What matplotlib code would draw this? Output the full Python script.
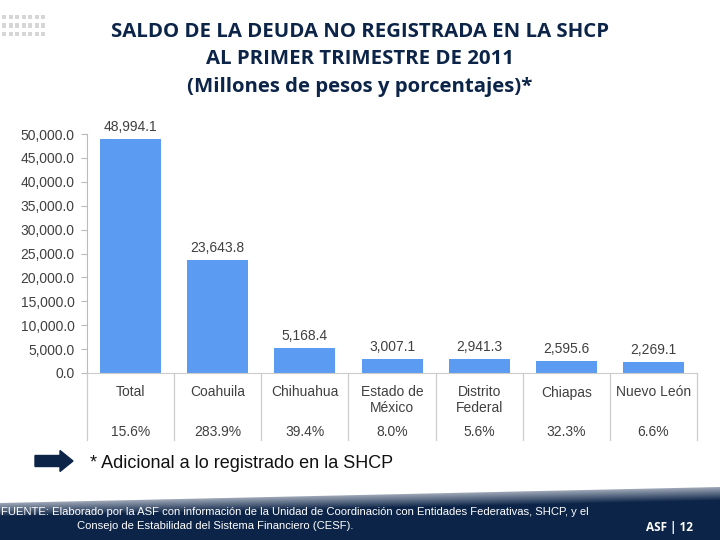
import matplotlib
matplotlib.use("Agg")
import matplotlib.pyplot as plt
from matplotlib.patches import Polygon, Rectangle, FancyArrow
import matplotlib.colors as mcolors
import numpy as np

categories = ["Total", "Coahuila", "Chihuahua", "Estado de\nMéxico", "Distrito\nFederal", "Chiapas", "Nuevo León"]
values = [48994.1, 23643.8, 5168.4, 3007.1, 2941.3, 2595.6, 2269.1]
percentages = ["15.6%", "283.9%", "39.4%", "8.0%", "5.6%", "32.3%", "6.6%"]
yticks = [0, 5000, 10000, 15000, 20000, 25000, 30000, 35000, 40000, 45000, 50000]

title_lines = ["SALDO DE LA DEUDA NO REGISTRADA EN LA SHCP",
               "AL PRIMER TRIMESTRE DE 2011",
               "(Millones de pesos y porcentajes)*"]

W, H = 720, 540
fig = plt.figure(figsize=(7.2, 5.4), dpi=100)
fig.patch.set_facecolor("white")

def fx(px):
    return px / W

def fy(py):
    return 1 - py / H

navy = "#0c2448"
bar_color = "#5b9cf2"
text_gray = "#404040"
sans = ["Liberation Sans", "DejaVu Sans"]

# axes
x0, x1 = 87, 697
ytop, ybot = 134, 373
ax = fig.add_axes([fx(x0), fy(ybot), fx(x1) - fx(x0), fy(ytop) - fy(ybot)])
n = len(categories)
x = np.arange(n)
ax.bar(x, values, width=0.70, color=bar_color, zorder=2)
ax.set_xlim(-0.5, n - 0.5)
ax.set_ylim(0, 50000)
ax.set_yticks(yticks)
ax.set_yticklabels([f"{v:,.1f}" for v in yticks], fontsize=10, color=text_gray,
                   family=sans)
ax.tick_params(axis="y", length=4, color="#bbbbbb", pad=5)
ax.set_xticks([])
for s in ["top", "right"]:
    ax.spines[s].set_visible(False)
ax.spines["left"].set_color("#bbbbbb")
ax.spines["bottom"].set_color("#cccccc")
ax.patch.set_alpha(0)

for xi, v in zip(x, values):
    ax.annotate(f"{v:,.1f}", (xi, v), xytext=(0, 8.5), textcoords="offset points",
                ha="center", va="center", fontsize=10, color=text_gray,
                family=sans)

# table below axis
for i in range(n):
    ax.annotate(categories[i], (i, 0), xytext=(0, -9), textcoords="offset points",
                ha="center", va="top", fontsize=10, color=text_gray,
                family=sans, linespacing=1.15, annotation_clip=False)
    ax.annotate(percentages[i], (i, 0), xytext=(0, -42.5), textcoords="offset points",
                ha="center", va="center", fontsize=10, color=text_gray,
                family=sans, annotation_clip=False)
for b in np.arange(-0.5, n, 1.0):
    ax.plot([b, b], [0, -0.28 * 50000], color="#cccccc", lw=0.9, clip_on=False)

# title
for i, line in enumerate(title_lines):
    fig.text(0.5, fy(32 + 27.5 * i), line, ha="center", va="center",
             fontsize=14.7, color=navy, family="Open Sans", weight="bold")

# decorative dots top-left
for r in range(3):
    for c in range(7):
        fig.patches.append(Rectangle((fx(2 + c * 6.5), fy(15 + r * 8.5) - 4 / H),
                                     4 / W, 4 / H, transform=fig.transFigure,
                                     color="#d6d6d6", lw=0))

# arrow + footnote
fig.patches.append(FancyArrow(fx(35), fy(461), fx(73) - fx(35) - fx(13), 0,
                              width=11 / H, head_width=21 / H, head_length=13 / W,
                              transform=fig.transFigure, color=navy,
                              length_includes_head=False))
fig.text(fx(90), fy(464), "* Adicional a lo registrado en la SHCP", ha="left",
         va="center", fontsize=13, color="#111111", family=sans)

# footer band with gradient from steel gray to navy
c_top = np.array(mcolors.to_rgb("#9aa4b4"))
c_bot = np.array(mcolors.to_rgb(navy))
steps = 14
for k in range(steps):
    t = k / (steps - 1)
    col = c_top * (1 - t) + c_bot * t
    yl = 503 + k * 1.0
    yr = 487 + k * 1.0
    fig.patches.append(Polygon([(0, fy(yl)), (1, fy(yr)), (1, 0), (0, 0)],
                               closed=True, transform=fig.transFigure,
                               color=col, lw=0))

fig.text(fx(1), fy(512), "FUENTE: Elaborado por la ASF con información de la Unidad de Coordinación con Entidades Federativas, SHCP, y el",
         ha="left", va="center", fontsize=8.1, color="white", family=sans)
fig.text(fx(77), fy(526), "Consejo de Estabilidad del Sistema Financiero (CESF).",
         ha="left", va="center", fontsize=8.1, color="white", family=sans)
fig.text(fx(693), fy(528), "ASF | 12", ha="right", va="center", fontsize=8.5,
         color="white", weight="bold", family="Open Sans")

fig.savefig("out.png", dpi=100, facecolor="white")
